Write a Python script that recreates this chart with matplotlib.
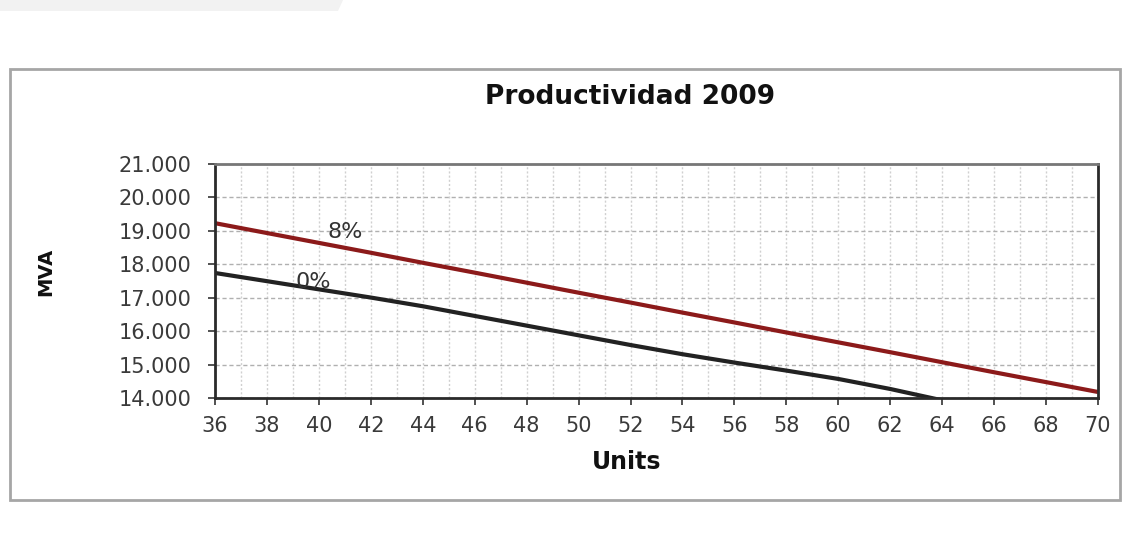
import matplotlib
matplotlib.use("Agg")
import matplotlib.pyplot as plt
from matplotlib.ticker import MultipleLocator, FuncFormatter
from matplotlib.patches import Polygon, Rectangle

# units on the x axis
units = [36, 38, 40, 42, 44, 46, 48, 50, 52, 54, 56, 58, 60, 62, 64, 66, 68, 70]
# productivity curves (MVA) for 8% and 0%
mva_8 = [19230, 18935, 18640, 18345, 18045, 17750, 17450, 17150, 16855,
         16555, 16260, 15960, 15665, 15370, 15070, 14770, 14475, 14180]
mva_0 = [17740, 17495, 17250, 17005, 16745, 16455, 16165, 15875, 15585,
         15310, 15060, 14820, 14570, 14270, 13930]
units_0 = units[:len(mva_0)]

plt.rcParams['font.family'] = ['DejaVu Sans']

fig = plt.figure(figsize=(11.23, 5.51), dpi=100)

# grey strip at the top left and the framed chart area
fig.patches.append(Polygon([[0, 1], [343 / 1123, 1], [338 / 1123, 1 - 11 / 551], [0, 1 - 11 / 551]],
                           closed=True, transform=fig.transFigure, facecolor='#f2f2f2',
                           edgecolor='none'))
fig.patches.append(Rectangle((10 / 1123, 1 - 500 / 551), 1110 / 1123, 431 / 551,
                             transform=fig.transFigure, facecolor='none',
                             edgecolor='#a6a6a6', linewidth=2))

ax = fig.add_axes([215 / 1123, 1 - 398 / 551, 883 / 1123, 234 / 551])

ax.plot(units, mva_8, color='#8c1a1a', linewidth=3, solid_capstyle='butt')
ax.plot(units_0, mva_0, color='#222222', linewidth=3, solid_capstyle='butt')

ax.set_xlim(36, 70)
ax.set_ylim(14000, 21000)

ax.xaxis.set_major_locator(MultipleLocator(2))
ax.xaxis.set_minor_locator(MultipleLocator(1))
ax.yaxis.set_major_locator(MultipleLocator(1000))
ax.yaxis.set_major_formatter(FuncFormatter(lambda v, p: '{:,.0f}'.format(v).replace(',', '.')))

ax.grid(which='both', axis='x', color='#d0d0d0', linestyle=(0, (1.5, 1.5)), linewidth=1)
ax.grid(which='major', axis='y', color='#b0b0b0', linestyle=(0, (3, 2)), linewidth=1)
ax.set_axisbelow(True)

ax.tick_params(axis='both', which='major', direction='out', length=5, width=1.2,
               colors='#333333', labelsize=15, labelcolor='#3a3a3a')
ax.tick_params(axis='x', which='major', pad=8)
ax.tick_params(axis='y', which='major', pad=12)
ax.tick_params(axis='x', which='minor', length=0)

for side in ['left', 'bottom', 'right']:
    ax.spines[side].set_color('#2a2a2a')
    ax.spines[side].set_linewidth(2)
ax.spines['top'].set_color('#777777')
ax.spines['top'].set_linewidth(2)

ax.text(41.0, 18960, '8%', fontsize=16, color='#333333', ha='center', va='center')
ax.text(39.8, 17470, '0%', fontsize=16, color='#333333', ha='center', va='center')

fig.text(630 / 1123, 1 - 97 / 551, 'Productividad 2009', fontsize=19, fontweight='bold',
         ha='center', va='center', color='#111111')
fig.text(627 / 1123, 1 - 462 / 551, 'Units', fontsize=17, fontweight='bold',
         ha='center', va='center', color='#111111')
fig.text(46 / 1123, 1 - 272 / 551, 'MVA', fontsize=14, fontweight='bold', rotation=90,
         ha='center', va='center', color='#111111')

fig.savefig('out.png', dpi=100)
